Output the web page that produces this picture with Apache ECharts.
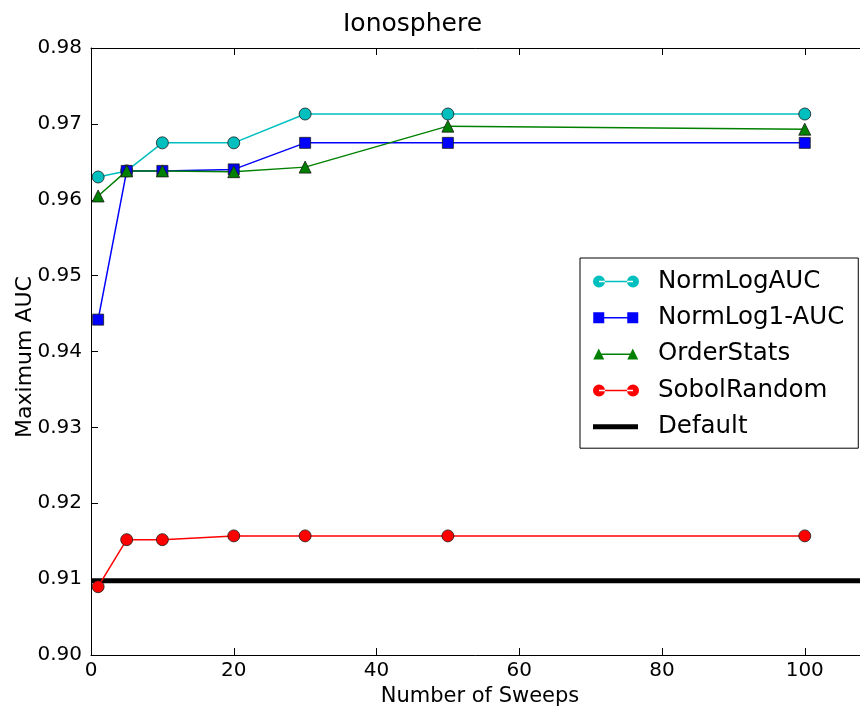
<!DOCTYPE html>
<html>
<head>
<meta charset="utf-8">
<script src="https://cdn.jsdelivr.net/npm/echarts@6/dist/echarts.min.js"></script>
<style>
html,body{margin:0;padding:0;background:#fff;}
#chart{width:860px;height:708px;}
</style>
</head>
<body>
<div id="chart"></div>
<script>
var sweeps = [1, 5, 10, 20, 30, 50, 100];
var normLogAUC = [0.9630, 0.9638, 0.9675, 0.9675, 0.9713, 0.9713, 0.9713];
var normLog1AUC = [0.9442, 0.9638, 0.9638, 0.9640, 0.9675, 0.9675, 0.9675];
var orderStats = [0.9605, 0.9638, 0.9638, 0.9637, 0.9643, 0.9697, 0.9693];
var sobolRandom = [0.9090, 0.9152, 0.9152, 0.9157, 0.9157, 0.9157, 0.9157];
var defaultValue = 0.9098;
var xRange = [0, 109];
var yRange = [0.90, 0.98];
var seriesNames = ['NormLogAUC', 'NormLog1-AUC', 'OrderStats', 'SobolRandom', 'Default'];

function pairs(xs, ys) { return xs.map(function (x, i) { return [x, ys[i]]; }); }

var FONT = 'DejaVu Sans';
var pad = ' M60 0L60 14';
var icons = {
  circle: 'path://M0 7a6 6 0 1 0 12 0a6 6 0 1 0 -12 0z M34 7a6 6 0 1 0 12 0a6 6 0 1 0 -12 0z M6 6.25h34v1.5H6z' + pad,
  square: 'path://M0.5 1.5h11v11h-11z M34.5 1.5h11v11h-11z M6 6.25h34v1.5H6z' + pad,
  triangle: 'path://M6 1.5L11.5 12.5H0.5z M40 1.5L45.5 12.5H34.5z M6 6.5h34v1.5H6z' + pad,
  line: 'path://M0 4.5h45v5H0z' + pad
};

function mkSeries(name, data, color, symbol, size) {
  return {
    name: name, type: 'line', data: pairs(sweeps, data),
    symbol: symbol, symbolSize: size, z: 3,
    lineStyle: { color: color, width: 1.5 },
    itemStyle: { color: color, borderColor: '#1a1a1a', borderWidth: 0.8 },
    emphasis: { disabled: true }
  };
}

var chart = echarts.init(document.getElementById('chart'), null, { renderer: 'canvas' });
chart.setOption({
  animation: false,
  backgroundColor: '#fff',
  textStyle: { fontFamily: FONT },
  title: {
    text: 'Ionosphere', left: 338, top: 7,
    textStyle: { fontFamily: FONT, fontSize: 25, fontWeight: 'normal', color: '#000' }
  },
  grid: { left: 91, top: 48, bottom: 53, right: -9, containLabel: false, outerBoundsMode: 'none' },
  legend: {
    orient: 'vertical', left: 580, top: 258,
    padding: [11, 14, 9, 13], itemGap: 11.3,
    itemWidth: 60, itemHeight: 14,
    backgroundColor: '#fff', borderColor: '#000', borderWidth: 1, borderRadius: 0,
    textStyle: { fontFamily: FONT, fontSize: 24.5, color: '#000' },
    itemStyle: { borderWidth: 0 },
    data: [
      { name: seriesNames[0], icon: icons.circle },
      { name: seriesNames[1], icon: icons.square },
      { name: seriesNames[2], icon: icons.triangle },
      { name: seriesNames[3], icon: icons.circle },
      { name: seriesNames[4], icon: icons.line }
    ]
  },
  xAxis: [{
    type: 'value', min: xRange[0], max: xRange[1], interval: 20,
    axisLine: { lineStyle: { color: '#000', width: 1 } },
    axisTick: { inside: true, length: 7, lineStyle: { color: '#000' } },
    axisLabel: { margin: 6, fontSize: 20, color: '#000', fontFamily: FONT, showMaxLabel: false },
    splitLine: { show: false },
    name: 'Number of Sweeps', nameLocation: 'middle', nameGap: 31, nameMoveOverlap: false,
    nameTextStyle: { fontSize: 21, color: '#000', fontFamily: FONT }
  }, {
    type: 'value', position: 'top', min: xRange[0], max: xRange[1], interval: 20,
    axisLine: { lineStyle: { color: '#000', width: 1 } },
    axisTick: { inside: true, length: 7, lineStyle: { color: '#000' } },
    axisLabel: { show: false }, splitLine: { show: false }
  }],
  yAxis: [{
    type: 'value', min: yRange[0], max: yRange[1], interval: 0.01,
    axisLine: { show: true, lineStyle: { color: '#000', width: 1 } },
    axisTick: { show: true, inside: true, length: 7, lineStyle: { color: '#000' } },
    axisLabel: { margin: 9, fontSize: 20, color: '#000', fontFamily: FONT,
      formatter: function (v) { return v.toFixed(2); } },
    splitLine: { show: false },
    name: 'Maximum AUC', nameLocation: 'middle', nameGap: 55, nameMoveOverlap: false,
    nameTextStyle: { fontSize: 22, color: '#000', fontFamily: FONT, padding: [0, 11, 0, 0] }
  }],
  series: [
    mkSeries(seriesNames[0], normLogAUC, '#00BFBF', 'circle', 12),
    mkSeries(seriesNames[1], normLog1AUC, '#0000FF', 'rect', 11),
    mkSeries(seriesNames[2], orderStats, '#008000', 'triangle', 12),
    mkSeries(seriesNames[3], sobolRandom, '#FF0000', 'circle', 12),
    {
      name: seriesNames[4], type: 'line', z: 2,
      data: [[xRange[0], defaultValue], [xRange[1], defaultValue]],
      showSymbol: false, symbol: 'none',
      lineStyle: { color: '#000', width: 5 },
      itemStyle: { color: '#000' },
      emphasis: { disabled: true }
    }
  ]
});
</script>
</body>
</html>
